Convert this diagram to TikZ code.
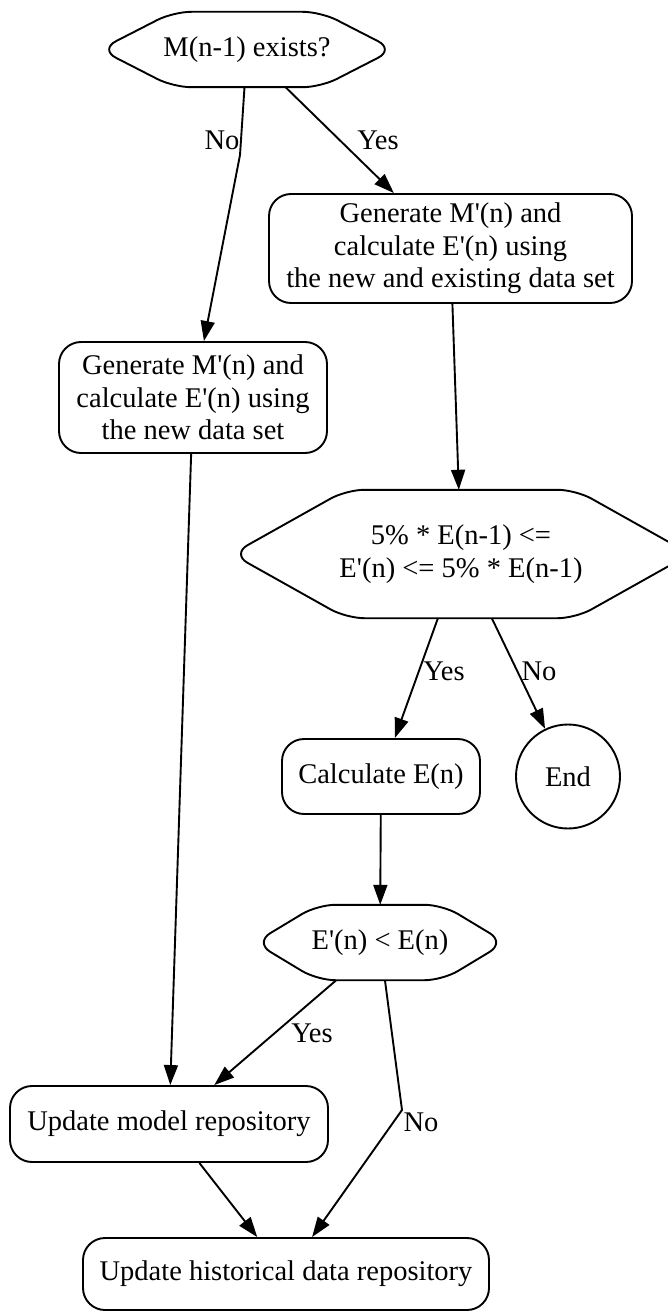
\documentclass[tikz,border=0pt]{standalone}
\usepackage{fontspec}
\setmainfont{Liberation Serif}
\usetikzlibrary{arrows.meta,calc}
\newcommand\drawhexagon[2]{%
  \draw[hexline] (#1.north) -- ($(#1.north east)+(-#2,0)$) -- (#1.east)
    -- ($(#1.south east)+(-#2,0)$) -- ($(#1.south west)+(#2,0)$)
    -- (#1.west) -- ($(#1.north west)+(#2,0)$) -- cycle;}
\newcommand\pr{\textquotesingle}
\begin{document}
\begin{tikzpicture}[x=1pt,y=-1pt,
  every node/.style={font=\fontsize{28.5}{32.5}\selectfont},
  box/.style={draw, rounded corners=22pt, line width=1.9pt, inner sep=0pt, align=center},
  hexbox/.style={inner sep=0pt, align=center},
  endnode/.style={draw, circle, line width=1.9pt, inner sep=0pt, minimum size=104pt},
  hexline/.style={line width=1.9pt, rounded corners=18pt},
  edge/.style={line width=1.9pt, -{Triangle[length=20pt,width=14pt]}},
  lab/.style={inner sep=0pt}
]
\useasboundingbox (0,0) rectangle (668,1311);
\clip (0,0) rectangle (668,1311);

\node[hexbox, minimum width=294pt, minimum height=75pt] (q1) at (247,49.5) {M(n-1) exists?};
\drawhexagon{q1}{73.5pt}

\node[box, minimum width=363pt, minimum height=109pt] (gen2) at (450.5,248.5)
  {Generate M\pr(n) and\\calculate E\pr(n) using\\the new and existing data set};
\node[box, minimum width=268pt, minimum height=111pt] (gen1) at (193,397.5)
  {Generate M\pr(n) and\\calculate E\pr(n) using\\the new data set};

\node[hexbox, minimum width=458pt, minimum height=128pt] (q2) at (461,554)
  {5\% * E(n-1) <=\\E\pr(n) <= 5\% * E(n-1)};
\drawhexagon{q2}{114.5pt}

\node[box, minimum width=198pt, minimum height=75pt] (calc) at (381,776.5) {Calculate E(n)};
\node[endnode] (endc) at (568,776.5) {End};

\node[hexbox, minimum width=250pt, minimum height=75pt] (q3) at (380,942.5) {E\pr(n) < E(n)};
\drawhexagon{q3}{62.5pt}

\node[box, minimum width=318pt, minimum height=76pt] (upm) at (169,1124) {Update model repository};
\node[box, minimum width=406pt, minimum height=72pt] (uph) at (286,1274) {Update historical data repository};

\coordinate (b1) at (240,155);
\coordinate (b2) at (402,1110);

\draw[edge] (q1) -- (b1) -- (gen1);
\draw[edge] (q1) -- (gen2);
\draw[edge] (gen2) -- (q2);
\draw[edge] (gen1) -- (upm);
\draw[edge] (q2) -- (calc);
\draw[edge] (q2) -- (endc);
\draw[edge] (calc) -- (q3);
\draw[edge] (q3) -- (upm);
\draw[edge] (q3) -- (b2) -- (uph);
\draw[edge] (upm) -- (uph);

\node[lab] (l1) at (222,140) {No};
\node[lab] (l2) at (378,140) {Yes};
\node[lab] (l3) at (444,671) {Yes};
\node[lab] (l4) at (539,671) {No};
\node[lab] (l5) at (312,1033) {Yes};
\node[lab] (l6) at (421,1122) {No};
\end{tikzpicture}
\end{document}
